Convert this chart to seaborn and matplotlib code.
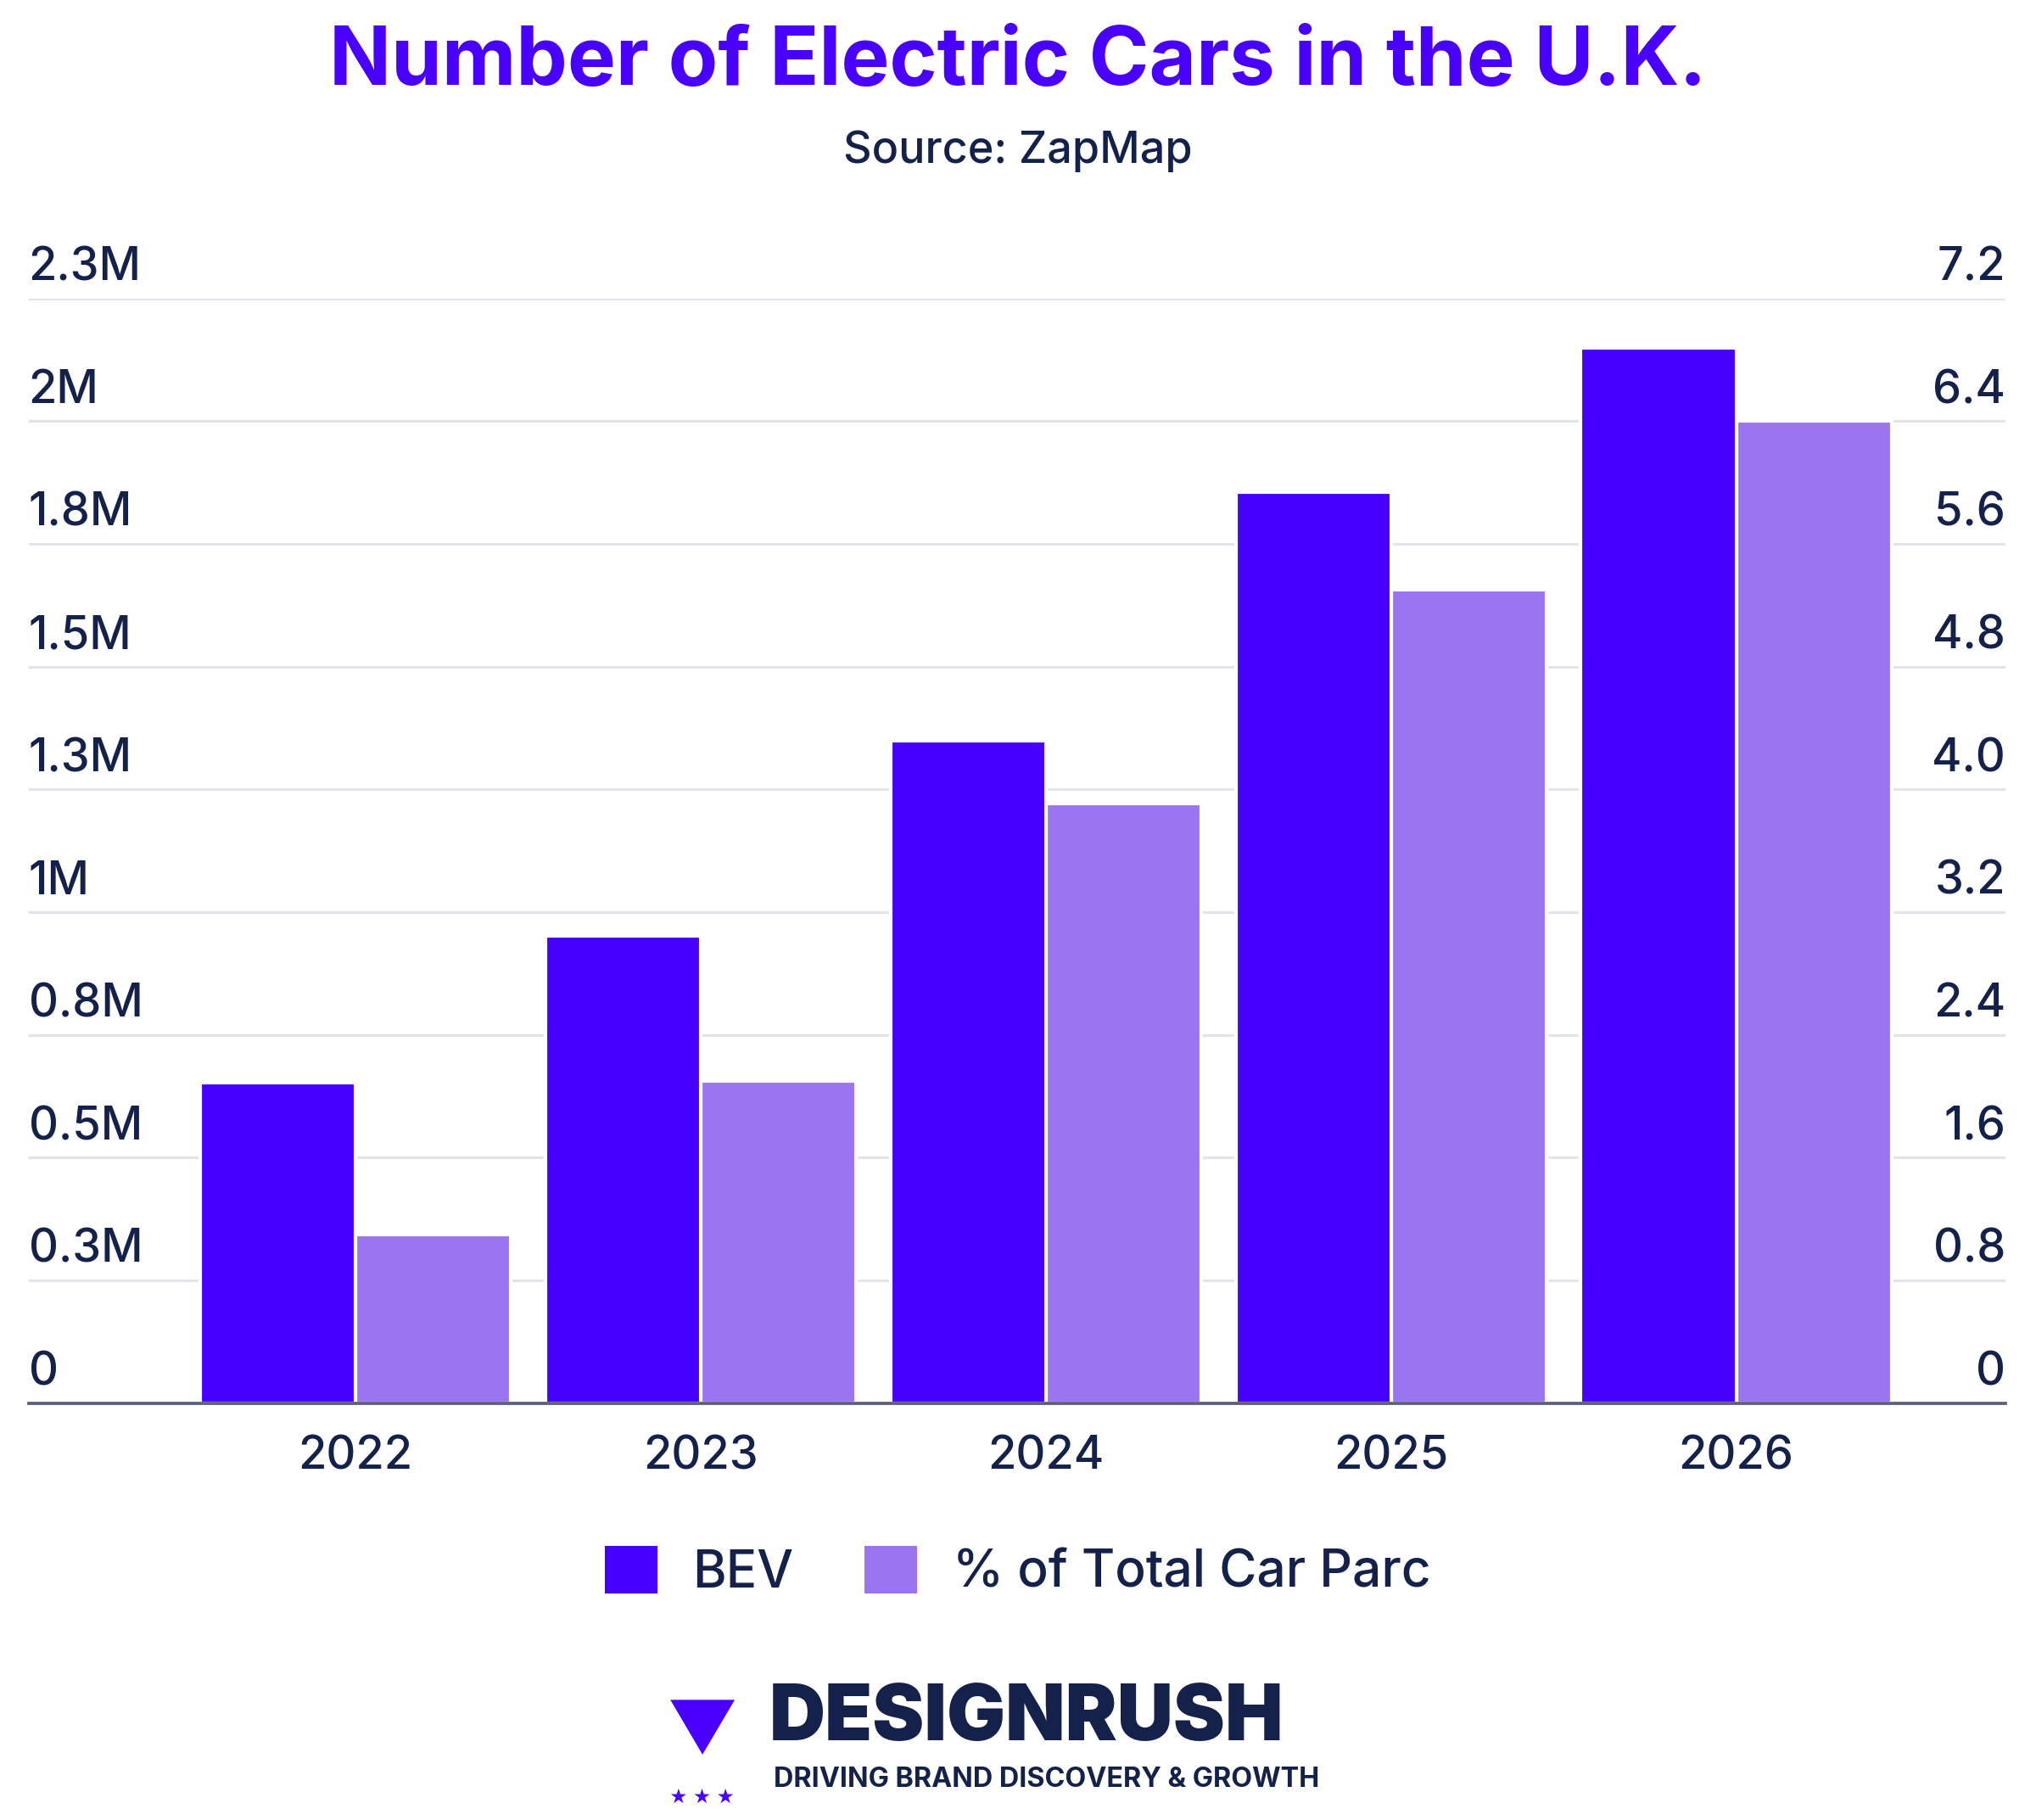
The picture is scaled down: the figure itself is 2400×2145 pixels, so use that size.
import matplotlib.pyplot as plt
import matplotlib.transforms as mtransforms
import pandas as pd
import seaborn as sns

years = ["2022", "2023", "2024", "2025", "2026"]
bev = [652000, 951000, 1349000, 1855000, 2149000]
pct = [1.10, 2.10, 3.91, 5.30, 6.40]
left_ticks = [0, 250000, 500000, 750000, 1000000, 1250000, 1500000, 1750000, 2000000, 2250000]
left_labels = ["0", "0.3M", "0.5M", "0.8M", "1M", "1.3M", "1.5M", "1.8M", "2M", "2.3M"]
right_ticks = [0, 0.8, 1.6, 2.4, 3.2, 4.0, 4.8, 5.6, 6.4, 7.2]
right_labels = ["0", "0.8", "1.6", "2.4", "3.2", "4.0", "4.8", "5.6", "6.4", "7.2"]
series = ["BEV", "% of Total Car Parc"]

C_BEV = "#4600FF"
C_PCT = "#9A74F1"
NAVY = "#14214B"

sns.set_theme(style="white")
plt.rcParams["font.family"] = ["Inter", "DejaVu Sans"]

df = pd.DataFrame({
    "year": years * 2,
    "series": [series[0]] * 5 + [series[1]] * 5,
    "bev": bev + [float("nan")] * 5,
    "pct": [float("nan")] * 5 + pct,
})

fig = plt.figure(figsize=(16, 14.3), dpi=150)
ax = fig.add_axes([0.014, 0.229, 0.971, 0.607])
ax2 = ax.twinx()

pal = {series[0]: C_BEV, series[1]: C_PCT}
sns.barplot(data=df, x="year", y="bev", hue="series", hue_order=series, order=years,
            palette=pal, saturation=1, width=0.9, ax=ax, legend=False, edgecolor="white", linewidth=2)
sns.barplot(data=df, x="year", y="pct", hue="series", hue_order=series, order=years,
            palette=pal, saturation=1, width=0.9, ax=ax2, legend=False, edgecolor="white", linewidth=2)

ax.set_xlim(-0.947, 4.78)
ax.set_ylim(0, 2250000)
ax2.set_ylim(0, 7.2)
ax.set_zorder(ax2.get_zorder() + 1)
ax.patch.set_visible(False)

for t in left_ticks[1:]:
    ax2.axhline(t / 2250000 * 7.2, color="#E3E3EC", lw=1.5, zorder=0)

ax.set_yticks([])
ax2.set_yticks([])
ax.set_xlabel("")
ax.set_ylabel("")
ax2.set_ylabel("")
for a in (ax, ax2):
    for s in ("top", "left", "right"):
        a.spines[s].set_visible(False)
ax.spines["bottom"].set_color("#5A607A")
ax.spines["bottom"].set_linewidth(1.8)
ax2.spines["bottom"].set_visible(False)
ax.tick_params(axis="x", length=0, pad=18, labelsize=26, labelcolor=NAVY)
for lab in ax.get_xticklabels():
    lab.set_fontweight("medium")

bl = mtransforms.blended_transform_factory(ax.transAxes, ax.transData)
br = mtransforms.blended_transform_factory(ax.transAxes, ax2.transData)
shift = mtransforms.ScaledTranslation(0, 5 / 72, fig.dpi_scale_trans)
for v, lab in zip(left_ticks, left_labels):
    ax.text(0.0, v, lab, transform=bl + shift, fontsize=26, fontweight="medium",
            color=NAVY, ha="left", va="bottom")
for v, lab in zip(right_ticks, right_labels):
    ax2.text(1.0, v, lab, transform=br + shift, fontsize=26, fontweight="medium",
             color=NAVY, ha="right", va="bottom")

fig.text(0.5, 0.965, "Number of Electric Cars in the U.K.", ha="center", va="center",
         fontsize=46, fontweight="bold", color="#4A00FF")
fig.text(0.5, 0.917, "Source: ZapMap", ha="center", va="center", fontsize=25,
         fontweight="medium", color=NAVY)

# legend
handles = [plt.Rectangle((0, 0), 1, 1, color=C_BEV), plt.Rectangle((0, 0), 1, 1, color=C_PCT)]
fig.legend(handles, series, loc="center", bbox_to_anchor=(0.5, 0.136), ncol=2, frameon=False,
           handlelength=1.0, handleheight=1.0, columnspacing=1.4, handletextpad=0.7,
           labelcolor=NAVY, prop={"weight": "medium", "size": 29})

# brand
fig.text(0.345, 0.048, "\u25BC", ha="center", va="center", fontsize=40, color="#4A00FF")
fig.text(0.345, 0.012, "\u2605 \u2605 \u2605", ha="center", va="center", fontsize=10, color="#4A00FF")
fig.text(0.378, 0.055, "DESIGNRUSH", ha="left", va="center", fontsize=44,
         fontweight="black", color=NAVY)
fig.text(0.380, 0.022, "DRIVING BRAND DISCOVERY & GROWTH", ha="left", va="center", fontsize=15.5,
         fontweight="bold", color=NAVY)

fig.savefig("out.png", dpi=150, facecolor="white")
